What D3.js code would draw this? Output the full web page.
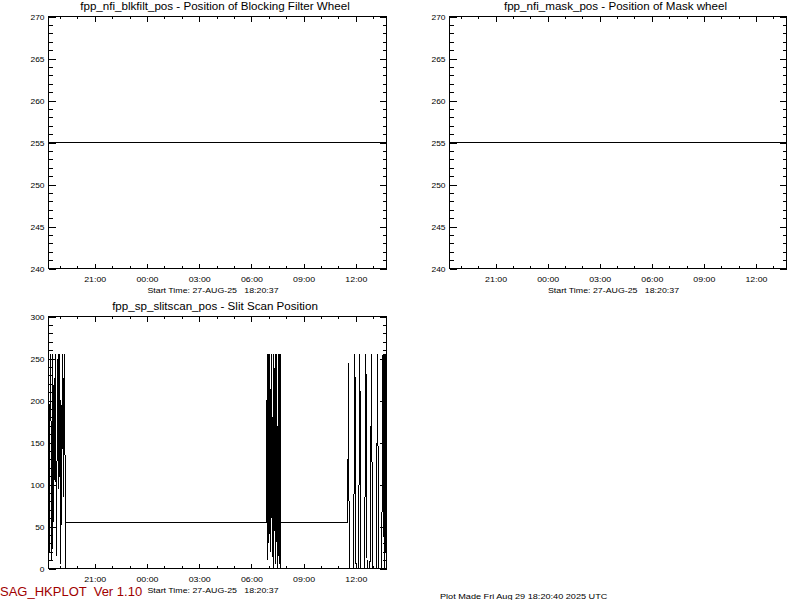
<!DOCTYPE html>
<html>
<head>
<meta charset="utf-8">
<script src="https://cdn.jsdelivr.net/npm/d3@7"></script>
<style>
  body { margin: 0; background: #fff; }
  svg { display: block; font-family: "Liberation Sans", Arial, sans-serif; }
  .tick line { stroke: #000; }
  .tick text { fill: #000; }
</style>
</head>
<body>
<div id="host"></div>
<script>
// Time range (UTC)
const START = Date.UTC(2025, 7, 27, 18, 20, 37);
const END_MINUTES = 1165;

// Tick labels
const posTicks = [240, 245, 250, 255, 260, 265, 270];
const slitTicks = [0, 50, 100, 150, 200, 250, 300];

// Series: minutes after start, value
const blkfiltMinutes = [0, 1165];
const blkfiltValues = [255, 255];

const maskMinutes = [0, 1165];
const maskValues = [255, 255];

const slitMinutes = [
    0, 3, 6, 9, 12, 15, 18, 21, 24, 27, 30, 33, 36, 39, 42, 45, 48, 51, 54, 56, 58, 59,
    750, 752, 754, 756, 758, 760, 762, 764, 766, 768, 770, 772, 774, 776, 778, 780,
    782, 784, 786, 788, 790, 792, 794, 796, 798, 800, 801,
    1032, 1033, 1035, 1037,
    1051, 1054, 1056, 1058, 1060,
    1068, 1071, 1073, 1075, 1077,
    1089, 1092, 1094, 1096, 1098,
    1108, 1111, 1113, 1115, 1117,
    1129, 1132, 1134, 1136, 1138,
    1148, 1151, 1153, 1155, 1157,
    1159, 1160, 1161, 1162, 1164
];
const slitValues = [
    245, 20, 255, 165, 10, 255, 55, 200, 255, 15, 160, 255, 95, 255, 5, 125, 255, 85, 255, 248, 0, 55,
    55, 120, 255, 10, 255, 30, 255, 200, 20, 255, 60, 180, 0, 255, 45, 230,
    255, 5, 255, 150, 0, 255, 15, 255, 0, 255, 55,
    55, 245, 130, 0,
    0, 130, 255, 130, 0,
    0, 130, 255, 130, 0,
    0, 130, 255, 130, 0,
    0, 130, 255, 130, 0,
    0, 130, 255, 130, 0,
    0, 130, 255, 130, 0,
    255, 60, 255, 20, 250
];

const panels = [
    {
        title: "fpp_nfi_blkfilt_pos - Position of Blocking Filter Wheel",
        minutes: blkfiltMinutes, values: blkfiltValues,
        yTicks: posTicks, yMinor: 1,
        x0: 48, x1: 386, y0: 16, y1: 268
    },
    {
        title: "fpp_nfi_mask_pos - Position of Mask wheel",
        minutes: maskMinutes, values: maskValues,
        yTicks: posTicks, yMinor: 1,
        x0: 449, x1: 786, y0: 16, y1: 268
    },
    {
        title: "fpp_sp_slitscan_pos - Slit Scan Position",
        minutes: slitMinutes, values: slitValues,
        yTicks: slitTicks, yMinor: 10,
        x0: 48, x1: 386, y0: 316, y1: 568
    }
];

const svg = d3.select("#host").append("svg")
    .attr("width", 800)
    .attr("height", 600);

const toDate = m => new Date(START + m * 60000);

// Widen text a bit so it matches the wide plot font
function stretch(sel, factor) {
    sel.each(function () {
        const w = this.getComputedTextLength();
        d3.select(this)
            .attr("textLength", w * factor)
            .attr("lengthAdjust", "spacingAndGlyphs");
    });
}

function drawPanel(p) {
    const g = svg.append("g");
    const x = d3.scaleUtc()
        .domain([toDate(0), toDate(END_MINUTES)])
        .range([p.x0 + 0.5, p.x1 + 0.5]);
    const yExtent = d3.extent(p.yTicks);
    const y = d3.scaleLinear().domain(yExtent).range([p.y1 + 0.5, p.y0 + 0.5]);
    const yMinorTicks = d3.range(yExtent[0], yExtent[1] + 0.001, p.yMinor);

    // minor ticks first
    g.append("g").attr("transform", `translate(0,${p.y1 + 0.5})`)
        .call(d3.axisBottom(x).ticks(d3.utcHour.every(1)).tickSize(-2.5).tickFormat(""));
    g.append("g").attr("transform", `translate(0,${p.y0 + 0.5})`)
        .call(d3.axisTop(x).ticks(d3.utcHour.every(1)).tickSize(-2.5).tickFormat(""));
    g.append("g").attr("transform", `translate(${p.x0 + 0.5},0)`)
        .call(d3.axisLeft(y).tickValues(yMinorTicks).tickSize(-4).tickFormat(""));
    g.append("g").attr("transform", `translate(${p.x1 + 0.5},0)`)
        .call(d3.axisRight(y).tickValues(yMinorTicks).tickSize(-4).tickFormat(""));

    // major ticks
    const bottom = g.append("g").attr("transform", `translate(0,${p.y1 + 0.5})`)
        .call(d3.axisBottom(x).ticks(d3.utcHour.every(3)).tickSize(-5)
            .tickPadding(8).tickFormat(d3.utcFormat("%H:%M")))
        .attr("font-size", 8);
    g.append("g").attr("transform", `translate(0,${p.y0 + 0.5})`)
        .call(d3.axisTop(x).ticks(d3.utcHour.every(3)).tickSize(-5).tickFormat(""));
    const left = g.append("g").attr("transform", `translate(${p.x0 + 0.5},0)`)
        .call(d3.axisLeft(y).tickValues(p.yTicks).tickSize(-7).tickPadding(4))
        .attr("font-size", 8);
    g.append("g").attr("transform", `translate(${p.x1 + 0.5},0)`)
        .call(d3.axisRight(y).tickValues(p.yTicks).tickSize(-7).tickFormat(""));

    stretch(bottom.selectAll("text"), 1.1);
    stretch(left.selectAll("text"), 1.05);

    g.selectAll(".domain").remove();
    g.selectAll(".tick line").attr("shape-rendering", "crispEdges");

    // frame
    g.append("rect")
        .attr("x", p.x0 + 0.5).attr("y", p.y0 + 0.5)
        .attr("width", p.x1 - p.x0).attr("height", p.y1 - p.y0)
        .attr("fill", "none").attr("stroke", "#000")
        .attr("shape-rendering", "crispEdges");

    // data line
    const pts = p.minutes.map((m, i) => [toDate(m), p.values[i]]);
    g.append("path")
        .datum(pts)
        .attr("fill", "none")
        .attr("stroke", "#000")
        .attr("stroke-width", 1)
        .attr("shape-rendering", "crispEdges")
        .attr("d", d3.line().x(d => x(d[0])).y(d => y(d[1])));

    // title
    g.append("text")
        .attr("x", (p.x0 + p.x1) / 2 - 2)
        .attr("y", p.y0 - 6)
        .attr("text-anchor", "middle")
        .attr("font-size", 10)
        .text(p.title)
        .call(stretch, 1.16);

    // start time
    g.append("text")
        .attr("x", (p.x0 + p.x1) / 2 - 4)
        .attr("y", p.y1 + 25)
        .attr("text-anchor", "middle")
        .attr("font-size", 8)
        .attr("xml:space", "preserve")
        .text("Start Time: 27-AUG-25   18:20:37")
        .call(stretch, 1.1);
}

panels.forEach(drawPanel);

svg.append("text")
    .attr("x", 0).attr("y", 596)
    .attr("font-size", 13)
    .attr("fill", "#a00000")
    .attr("xml:space", "preserve")
    .text("SAG_HKPLOT  Ver 1.10");

svg.append("text")
    .attr("x", 440).attr("y", 599)
    .attr("font-size", 8)
    .text("Plot Made Fri Aug 29 18:20:40 2025 UTC")
    .call(stretch, 1.14);
</script>
</body>
</html>
